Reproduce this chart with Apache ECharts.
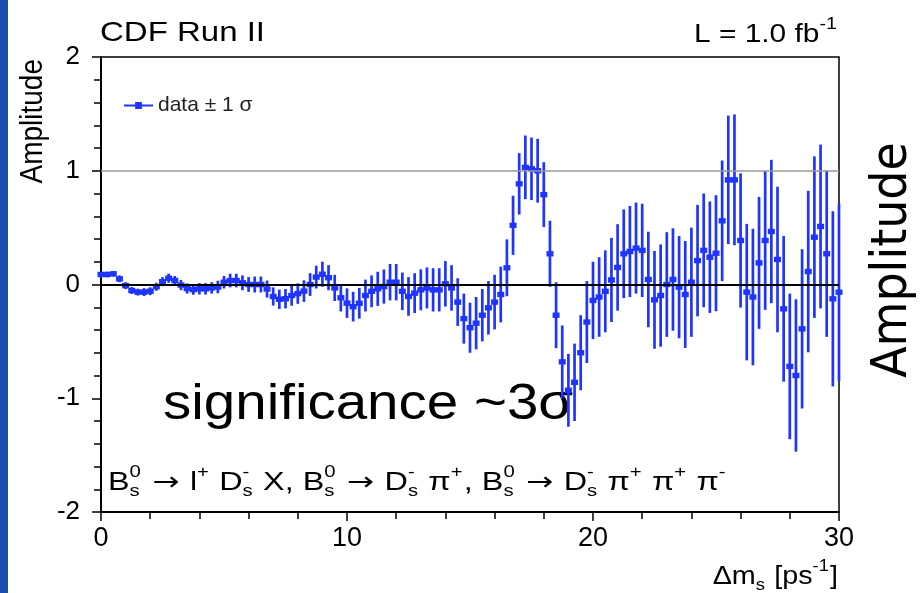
<!DOCTYPE html>
<html><head><meta charset="utf-8">
<script src="https://cdn.jsdelivr.net/npm/echarts@6/dist/echarts.min.js"></script>
<style>html,body{margin:0;padding:0;background:#fff}#c{width:920px;height:593px}</style>
</head><body><div id="c"></div>
<script>
// ---- data (Δm_s scan, amplitude ± 1σ) ----
const massValues = [
 0,0.25,0.5,0.75,1,1.25,1.5,1.75,2,2.25,
 2.5,2.75,3,3.25,3.5,3.75,4,4.25,4.5,4.75,
 5,5.25,5.5,5.75,6,6.25,6.5,6.75,7,7.25,
 7.5,7.75,8,8.25,8.5,8.75,9,9.25,9.5,9.75,
 10,10.25,10.5,10.75,11,11.25,11.5,11.75,12,12.25,
 12.5,12.75,13,13.25,13.5,13.75,14,14.25,14.5,14.75,
 15,15.25,15.5,15.75,16,16.25,16.5,16.75,17,17.25,
 17.5,17.75,18,18.25,18.5,18.75,19,19.25,19.5,19.75,
 20,20.25,20.5,20.75,21,21.25,21.5,21.75,22,22.25,
 22.5,22.75,23,23.25,23.5,23.75,24,24.25,24.5,24.75,
 25,25.25,25.5,25.75,26,26.25,26.5,26.75,27,27.25,
 27.5,27.75,28,28.25,28.5,28.75,29,29.25,29.5,29.75,
 30];
const amplitude = [
 0.088,0.088,0.094,0.05,-0.01,-0.053,-0.067,-0.067,-0.059,-0.02,
 0.025,0.055,0.035,-0.005,-0.035,-0.045,-0.038,-0.038,-0.03,-0.022,
 0.02,0.035,0.035,0.015,0.0,0.0,0.0,-0.04,-0.105,-0.13,
 -0.125,-0.097,-0.08,-0.058,0.0,0.065,0.09,0.06,-0.03,-0.117,
 -0.164,-0.195,-0.165,-0.097,-0.06,-0.038,-0.018,0.02,0.02,-0.06,
 -0.105,-0.076,-0.047,-0.03,-0.047,-0.047,0.006,-0.03,-0.155,-0.30,
 -0.38,-0.34,-0.27,-0.205,-0.155,-0.088,0.147,0.52,0.885,1.03,
 1.017,1.0,0.79,0.27,-0.27,-0.68,-0.93,-0.86,-0.6,-0.33,
 -0.14,-0.11,-0.06,0.04,0.15,0.27,0.29,0.32,0.30,0.044,
 -0.135,-0.097,0.0,0.044,-0.023,-0.088,0.02,0.21,0.30,0.24,
 0.275,0.56,0.92,0.92,0.387,-0.067,-0.11,0.19,0.387,0.466,
 0.22,-0.214,-0.72,-0.80,-0.39,0.114,0.416,0.51,0.27,-0.126,
 -0.068];
const sigma = [
 0.025,0.025,0.025,0.03,0.03,0.03,0.03,0.035,0.035,0.035,
 0.04,0.04,0.04,0.045,0.045,0.045,0.05,0.05,0.05,0.055,
 0.055,0.06,0.06,0.065,0.065,0.07,0.07,0.075,0.08,0.085,
 0.085,0.09,0.09,0.095,0.1,0.1,0.11,0.11,0.115,0.12,
 0.13,0.13,0.135,0.14,0.14,0.15,0.15,0.16,0.16,0.165,
 0.17,0.175,0.18,0.18,0.19,0.19,0.2,0.2,0.21,0.22,
 0.22,0.23,0.23,0.235,0.24,0.245,0.25,0.26,0.27,0.28,
 0.275,0.28,0.285,0.29,0.29,0.32,0.32,0.34,0.33,0.36,
 0.34,0.35,0.36,0.37,0.38,0.39,0.40,0.40,0.41,0.42,
 0.43,0.45,0.46,0.45,0.45,0.47,0.48,0.49,0.50,0.49,
 0.51,0.53,0.565,0.575,0.59,0.60,0.60,0.58,0.61,0.63,
 0.64,0.64,0.64,0.67,0.70,0.71,0.71,0.72,0.73,0.77,
 0.78];
const referenceLines = [1, 0];
const seriesName = 'data ± 1 σ';

// ---- style ----
const BLUE = '#1f35ff';
const FAM = '"Liberation Sans", Arial, Helvetica, sans-serif';
const ARROWFAM = '"DejaVu Sans", sans-serif';
const SX = 1.15;

const chart = echarts.init(document.getElementById('c'));
const ctx = document.createElement('canvas').getContext('2d');
function tw(t, size, fam){ ctx.font = size + 'px ' + fam; return ctx.measureText(t).width; }
function txt(t, x, y, size, fam, color){
  return {type:'text', x:x, y:y, style:{text:t, font:size+'px '+fam, fill:color,
    align:'left', textAlign:'left', verticalAlign:'middle', textVerticalAlign:'middle'}};
}
function buildRich(pieces, x, y, align, F, sx, fam, color){
  const f = Math.round(F*0.64);
  let cur = 0; const els = [];
  pieces.forEach(p => {
    const pf = p.fam || fam;
    if (p.m !== undefined) { els.push(txt(p.m, cur, 0, F, pf, color)); cur += tw(p.m, F, pf); }
    else {
      let w = 0;
      if (p.sup !== undefined) { els.push(txt(p.sup, cur, -0.40*F, f, pf, color)); w = Math.max(w, tw(p.sup, f, pf)); }
      if (p.sub !== undefined) { els.push(txt(p.sub, cur, 0.34*F, f, pf, color)); w = Math.max(w, tw(p.sub, f, pf)); }
      cur += w + 1;
    }
  });
  const total = cur * sx;
  const gx = align === 'right' ? x - total : (align === 'center' ? x - total/2 : x);
  return {type:'group', x:gx, y:y, scaleX:sx, silent:true, children:els};
}

const ARR = {m:' \u2192 ', fam:ARROWFAM};
const formula = [
  {m:'B'},{sup:'0',sub:'s'},ARR,{m:'l'},{sup:'+'},{m:' D'},{sup:'-',sub:'s'},{m:' X, B'},{sup:'0',sub:'s'},
  ARR,{m:'D'},{sup:'-',sub:'s'},{m:' \u03c0'},{sup:'+'},{m:', B'},{sup:'0',sub:'s'},ARR,{m:'D'},{sup:'-',sub:'s'},
  {m:' \u03c0'},{sup:'+'},{m:' \u03c0'},{sup:'+'},{m:' \u03c0'},{sup:'-'}
];
const lumi = [{m:'L = 1.0 fb'},{sup:'-1'}];
const xName = [{m:'\u0394m'},{sub:'s'},{m:' [ps'},{sup:'-1'},{m:']'}];

const option = {
  animation:false,
  backgroundColor:'#fff',
  grid:{left:101, right:81, top:57, bottom:81, show:true, borderColor:'#000', borderWidth:1.5, backgroundColor:'transparent'},
  legend:{
    left:119, top:90, itemWidth:29, itemHeight:9, itemGap:5,
    data:[{name:seriesName, icon:'path://M0,3.5h30v2h-30z M11.5,1h7v7h-7z'}],
    textStyle:{fontSize:21, fontFamily:FAM, color:'#222'}
  },
  xAxis:{type:'value', min:0, max:30, interval:10,
    axisLine:{show:true, onZero:false, lineStyle:{color:'#000', width:2}},
    axisTick:{show:true, inside:false, length:9, lineStyle:{color:'#000', width:1.5}},
    minorTick:{show:true, splitNumber:5, length:7, lineStyle:{color:'#000', width:1.5}},
    splitLine:{show:false},
    axisLabel:{fontSize:27, fontFamily:FAM, color:'#000', margin:13}
  },
  yAxis:{type:'value', min:-2, max:2, interval:1,
    axisLine:{show:true, onZero:false, lineStyle:{color:'#000', width:2}},
    axisTick:{show:true, inside:false, length:9, lineStyle:{color:'#000', width:1.5}},
    minorTick:{show:true, splitNumber:5, length:7, lineStyle:{color:'#000', width:1.5}},
    splitLine:{show:false},
    axisLabel:{fontSize:26, fontFamily:FAM, color:'#000', margin:21}
  },
  series:[{
    name:seriesName, type:'custom', clip:false,
    itemStyle:{color:BLUE},
    data: massValues.map((m,i)=>[m, amplitude[i], sigma[i]]),
    encode:{x:0, y:1},
    renderItem:(params, api)=>{
      const x = api.value(0), v = api.value(1), e = api.value(2);
      const top = api.coord([x, v+e]), bot = api.coord([x, v-e]), c = api.coord([x, v]);
      return {type:'group', children:[
        {type:'line', shape:{x1:c[0], y1:top[1], x2:c[0], y2:bot[1]}, style:{stroke:BLUE, lineWidth:2.7}},
        {type:'rect', shape:{x:c[0]-3.5, y:c[1]-2.7, width:7, height:5.4}, style:{fill:BLUE}}
      ]};
    },
    markLine:{silent:true, symbol:'none', label:{show:false}, animation:false,
      data:[
        {yAxis:referenceLines[0], lineStyle:{color:'#999', width:1.5, type:'solid'}},
        {yAxis:referenceLines[1], lineStyle:{color:'#000', width:2, type:'solid'}}
      ]}
  }],
  graphic:[
    {type:'rect', left:0, top:0, shape:{width:8, height:593}, style:{fill:'#1a4db3'}, silent:true},
    {type:'text', x:100, y:33, scaleX:1.2, silent:true, style:{text:'CDF Run II', font:'27.5px '+FAM, fill:'#000', align:'left', textAlign:'left', verticalAlign:'middle', textVerticalAlign:'middle'}},
    buildRich(lumi, 838, 35, 'right', 26, SX, FAM, '#000'),
    {type:'text', x:33, y:59, rotation:Math.PI/2, scaleY:SX, silent:true, style:{text:'Amplitude', font:'28px '+FAM, fill:'#000', align:'right', textAlign:'right', verticalAlign:'middle', textVerticalAlign:'middle'}},
    {type:'text', x:163, y:405, scaleX:1.13, silent:true, style:{text:'significance ~3\u03c3', font:'50px '+FAM, fill:'#000', align:'left', textAlign:'left', verticalAlign:'middle', textVerticalAlign:'middle'}},
    buildRich(formula, 108, 483, 'left', 25.5, 1.27, FAM, '#000'),
    buildRich(xName, 838, 577, 'right', 25, SX, FAM, '#000'),
    {type:'text', x:893, y:260, rotation:Math.PI/2, scaleY:1.08, silent:true, style:{text:'Amplitude', font:'46px "DejaVu Sans", sans-serif', fill:'#000', align:'center', textAlign:'center', verticalAlign:'middle', textVerticalAlign:'middle'}}
  ]
};
chart.setOption(option);
</script></body></html>
